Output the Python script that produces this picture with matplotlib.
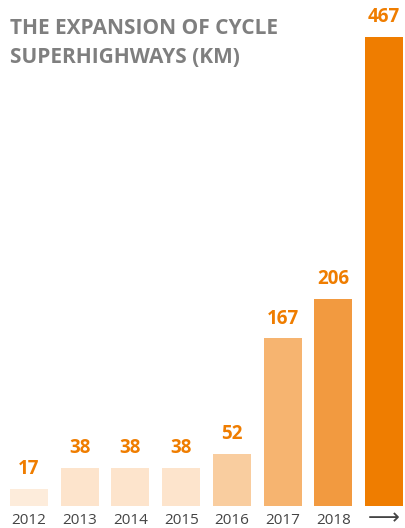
import matplotlib
matplotlib.use("Agg")
import matplotlib.pyplot as plt

years = ["2012", "2013", "2014", "2015", "2016", "2017", "2018", "\u27f6"]
values = [17, 38, 38, 38, 52, 167, 206, 467]
colors = ["#fdecdb", "#fde4cc", "#fde4cc", "#fde4cc", "#f9cd9f", "#f6b470", "#f29a40", "#ef7d00"]

W, H = 405, 528
fig = plt.figure(figsize=(W / 100, H / 100), dpi=100)
ax = fig.add_axes([0, 22 / H, 1, 506 / H])
pitch = 50.7
ax.set_xlim(-29 / pitch, 7 + 21 / pitch)
ax.set_ylim(0, 467 * 506 / 469)
x = list(range(len(values)))
bars = ax.bar(x, values, width=38 / pitch, color=colors)
for xi, v in zip(x, values):
    ax.annotate(str(v), (xi, v), xytext=(0, 7), textcoords="offset points",
                ha="center", va="bottom", color="#ef7d00", fontsize=13.5,
                fontweight="bold", family="Open Sans")
ax.set_xticks(x[:-1])
ax.set_xticklabels(years[:-1], family="Open Sans", fontsize=11, color="#444444")
ax.tick_params(axis="x", length=0, pad=5)
# arrow label for the last bar
ax.annotate(years[-1], xy=(x[-1], 0), xycoords=("data", "axes fraction"),
            xytext=(0, -12), textcoords="offset pixels", ha="center", va="center",
            fontsize=16, color="#444444", family="DejaVu Sans")
ax.set_yticks([])
for s in ax.spines.values():
    s.set_visible(False)

fig.text(10 / W, 1 - 18 / H, "THE EXPANSION OF CYCLE\nSUPERHIGHWAYS (KM)", ha="left", va="top",
         fontsize=15, fontweight="bold", color="#7f7f7f", family="Open Sans", linespacing=1.5)
fig.savefig("out.png", dpi=100)
